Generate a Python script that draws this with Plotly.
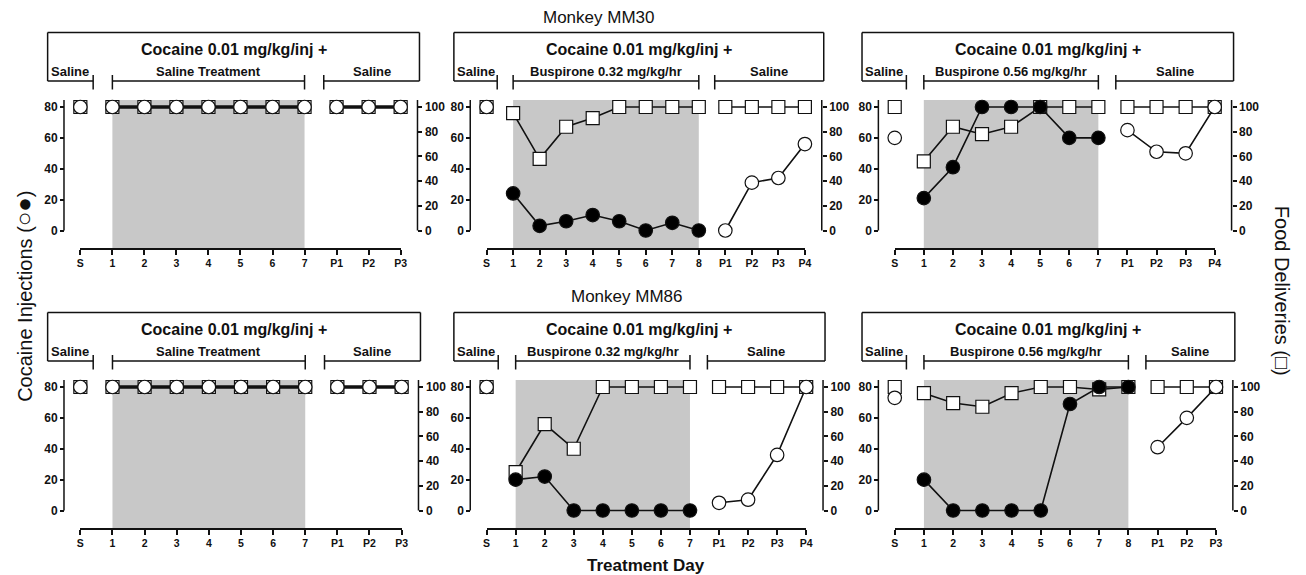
import plotly.graph_objects as go

W, H = 1306, 575

# ---------------- data ----------------
# Monkey MM30 - Saline treatment
mm30_sal_labels = ["S", "1", "2", "3", "4", "5", "6", "7", "P1", "P2", "P3"]
mm30_sal_inj_s, mm30_sal_food_s = 80, 100
mm30_sal_inj_treat = [80, 80, 80, 80, 80, 80, 80]
mm30_sal_food_treat = [100, 100, 100, 100, 100, 100, 100]
mm30_sal_inj_post = [80, 80, 80]
mm30_sal_food_post = [100, 100, 100]

# Monkey MM30 - Buspirone 0.32
mm30_b032_labels = ["S", "1", "2", "3", "4", "5", "6", "7", "8", "P1", "P2", "P3", "P4"]
mm30_b032_inj_s, mm30_b032_food_s = 80, 100
mm30_b032_inj_treat = [24, 3, 6, 10, 6, 0, 5, 0]
mm30_b032_food_treat = [95, 58, 84, 91, 100, 100, 100, 100]
mm30_b032_inj_post = [0, 31, 34, 56]
mm30_b032_food_post = [100, 100, 100, 100]

# Monkey MM30 - Buspirone 0.56
mm30_b056_labels = ["S", "1", "2", "3", "4", "5", "6", "7", "P1", "P2", "P3", "P4"]
mm30_b056_inj_s, mm30_b056_food_s = 60, 100
mm30_b056_inj_treat = [21, 41, 80, 80, 80, 60, 60]
mm30_b056_food_treat = [56, 84, 78, 84, 100, 100, 100]
mm30_b056_inj_post = [65, 51, 50, 80]
mm30_b056_food_post = [100, 100, 100, 100]

# Monkey MM86 - Saline treatment
mm86_sal_labels = ["S", "1", "2", "3", "4", "5", "6", "7", "P1", "P2", "P3"]
mm86_sal_inj_s, mm86_sal_food_s = 80, 100
mm86_sal_inj_treat = [80, 80, 80, 80, 80, 80, 80]
mm86_sal_food_treat = [100, 100, 100, 100, 100, 100, 100]
mm86_sal_inj_post = [80, 80, 80]
mm86_sal_food_post = [100, 100, 100]

# Monkey MM86 - Buspirone 0.32
mm86_b032_labels = ["S", "1", "2", "3", "4", "5", "6", "7", "P1", "P2", "P3", "P4"]
mm86_b032_inj_s, mm86_b032_food_s = 80, 100
mm86_b032_inj_treat = [20, 22, 0, 0, 0, 0, 0]
mm86_b032_food_treat = [31, 70, 50, 100, 100, 100, 100]
mm86_b032_inj_post = [5, 7, 36, 80]
mm86_b032_food_post = [100, 100, 100, 100]

# Monkey MM86 - Buspirone 0.56
mm86_b056_labels = ["S", "1", "2", "3", "4", "5", "6", "7", "8", "P1", "P2", "P3"]
mm86_b056_inj_s, mm86_b056_food_s = 73, 100
mm86_b056_inj_treat = [20, 0, 0, 0, 0, 69, 80, 80]
mm86_b056_food_treat = [95, 87, 84, 95, 100, 100, 98, 100]
mm86_b056_inj_post = [41, 60, 80]
mm86_b056_food_post = [100, 100, 100]

treatment_names = ["Saline Treatment", "Buspirone 0.32 mg/kg/hr", "Buspirone 0.56 mg/kg/hr"]
monkey_titles = ["Monkey MM30", "Monkey MM86"]
left_ticks = [0, 20, 40, 60, 80]
right_ticks = [0, 20, 40, 60, 80, 100]

panels = [
    dict(labels=mm30_sal_labels, inj_s=mm30_sal_inj_s, food_s=mm30_sal_food_s,
         inj_t=mm30_sal_inj_treat, food_t=mm30_sal_food_treat,
         inj_p=mm30_sal_inj_post, food_p=mm30_sal_food_post, treat=0),
    dict(labels=mm30_b032_labels, inj_s=mm30_b032_inj_s, food_s=mm30_b032_food_s,
         inj_t=mm30_b032_inj_treat, food_t=mm30_b032_food_treat,
         inj_p=mm30_b032_inj_post, food_p=mm30_b032_food_post, treat=1),
    dict(labels=mm30_b056_labels, inj_s=mm30_b056_inj_s, food_s=mm30_b056_food_s,
         inj_t=mm30_b056_inj_treat, food_t=mm30_b056_food_treat,
         inj_p=mm30_b056_inj_post, food_p=mm30_b056_food_post, treat=2),
    dict(labels=mm86_sal_labels, inj_s=mm86_sal_inj_s, food_s=mm86_sal_food_s,
         inj_t=mm86_sal_inj_treat, food_t=mm86_sal_food_treat,
         inj_p=mm86_sal_inj_post, food_p=mm86_sal_food_post, treat=0),
    dict(labels=mm86_b032_labels, inj_s=mm86_b032_inj_s, food_s=mm86_b032_food_s,
         inj_t=mm86_b032_inj_treat, food_t=mm86_b032_food_treat,
         inj_p=mm86_b032_inj_post, food_p=mm86_b032_food_post, treat=1),
    dict(labels=mm86_b056_labels, inj_s=mm86_b056_inj_s, food_s=mm86_b056_food_s,
         inj_t=mm86_b056_inj_treat, food_t=mm86_b056_food_treat,
         inj_p=mm86_b056_inj_post, food_p=mm86_b056_food_post, treat=2),
]

# ---------------- layout geometry (pixels) ----------------
X_START = [77, 486.7, 898.3, 77, 486.7, 898.3]
X_END = [400, 807.7, 1221, 401, 809, 1222.3]
ROW_OFF = [0, 0, 0, 280, 280, 280]
Y_TOP, Y_ZERO, Y_80, Y_XAX = 100, 230.5, 107, 248
BOX_TOP, BOX_BOT, BR_T0, BR_T1 = 32.5, 81, 75, 89.5

scale_l = (Y_ZERO - Y_80) / 80.0
scale_r = (Y_ZERO - Y_80) / 100.0
LRANGE = [-(Y_XAX - Y_ZERO) / scale_l, (Y_ZERO - Y_TOP) / scale_l]
RRANGE = [-(Y_XAX - Y_ZERO) / scale_r, (Y_ZERO - Y_TOP) / scale_r]


def px(x):
    return x / W


def py(y):
    return 1 - y / H


FONT = "Liberation Sans, Arial, Helvetica, sans-serif"
INK = "#111111"
GRAY = "#c8c8c8"

fig = go.Figure()
shapes = []
annotations = []
layout_axes = {}


def line(x0, y0, x1, y1, w=1.5):
    shapes.append(dict(type="line", xref="paper", yref="paper",
                       x0=px(x0), y0=py(y0), x1=px(x1), y1=py(y1),
                       line=dict(color=INK, width=w)))


def text(x, y, s, size, angle=0):
    annotations.append(dict(xref="paper", yref="paper", x=px(x), y=py(y), text=s,
                            showarrow=False, textangle=angle,
                            xanchor="center", yanchor="middle",
                            font=dict(family=FONT, size=size, color=INK)))


for k, p in enumerate(panels):
    i = k + 1
    xs, xe, off = X_START[k], X_END[k], ROW_OFF[k]
    n_t, n_p = len(p["inj_t"]), len(p["inj_p"])
    n = len(p["labels"]) - 1
    ppu = (xe - xs) / n

    def dx(v):
        return xs + v * ppu

    xa = "x" if i == 1 else f"x{i}"
    # base axis = right (food), overlaying axis = left (injections) so circles draw on top
    yb_i, yo_i = 2 * i - 1, 2 * i
    yb = "y" if yb_i == 1 else f"y{yb_i}"
    yo = f"y{yo_i}"

    tick_font = dict(family=FONT, size=12, color=INK, weight="bold")
    layout_axes["xaxis" if i == 1 else f"xaxis{i}"] = dict(
        domain=[px(xs), px(xe)], range=[0, n], anchor=yb,
        tickvals=list(range(n + 1)), ticktext=p["labels"],
        showline=True, linecolor=INK, linewidth=1.5, ticks="outside",
        ticklen=5, tickwidth=1.5, tickcolor=INK, showgrid=False, zeroline=False,
        tickfont=dict(family=FONT, size=10.5, color=INK, weight="bold"))
    layout_axes["yaxis" if yb_i == 1 else f"yaxis{yb_i}"] = dict(
        domain=[py(Y_XAX + off), py(Y_TOP + off)], range=RRANGE,
        anchor="free", position=px(xe + 17), side="right",
        tickvals=right_ticks, showline=False, showgrid=False, zeroline=False,
        ticks="outside", ticklen=4, tickwidth=1.5, tickcolor=INK, tickfont=tick_font)
    layout_axes[f"yaxis{yo_i}"] = dict(
        domain=[py(Y_XAX + off), py(Y_TOP + off)], range=LRANGE,
        anchor="free", position=px(xs - 16.5), side="left", overlaying=yb,
        tickvals=left_ticks, showline=False, showgrid=False, zeroline=False,
        ticks="outside", ticklen=4, tickwidth=1.5, tickcolor=INK, tickfont=tick_font)

    # axis lines for y axes
    line(xs - 16.5, Y_ZERO + off, xs - 16.5, Y_TOP + off)
    line(xe + 17, Y_ZERO + off, xe + 17, Y_TOP + off)

    # gray treatment shading
    shapes.append(dict(type="rect", xref=xa, yref="paper", x0=1, x1=n_t,
                       y0=py(Y_XAX + off), y1=py(Y_TOP + off),
                       fillcolor=GRAY, line=dict(width=0), layer="below"))

    # header box + brackets
    bl, br = xs - 33, xe + 19
    sal_t, tr_l, tr_r, post_l = dx(0.4), dx(1), dx(n_t), dx(n_t + 0.6)
    line(bl, BOX_TOP + off, br, BOX_TOP + off)
    line(bl, BOX_TOP + off, bl, BOX_BOT + off)
    line(br, BOX_TOP + off, br, BOX_BOT + off)
    line(bl, BOX_BOT + off, sal_t, BOX_BOT + off)
    line(tr_l, BOX_BOT + off, tr_r, BOX_BOT + off)
    line(post_l, BOX_BOT + off, br, BOX_BOT + off)
    for bx in (sal_t, tr_l, tr_r, post_l):
        line(bx, BR_T0 + off, bx, BR_T1 + off)

    text((bl + br) / 2, 49.5 + off, "<b>Cocaine 0.01 mg/kg/inj +</b>", 16)
    for txt, a, b in (("Saline", bl, sal_t), (treatment_names[p["treat"]], tr_l, tr_r), ("Saline", post_l, br)):
        text((a + b) / 2, 71.5 + off, f"<b>{txt}</b>", 13)

    # data traces
    xt = list(range(1, n_t + 1))
    xp = list(range(n_t + 1, n_t + n_p + 1))
    xx = [0, None] + xt + [None] + xp
    food = [p["food_s"], None] + p["food_t"] + [None] + p["food_p"]
    inj = [p["inj_s"], None] + p["inj_t"] + [None] + p["inj_p"]
    fill_t = "black" if p["treat"] > 0 else "white"
    cols = ["white", "white"] + [fill_t] * n_t + ["white"] + ["white"] * n_p
    lw = 3 if p["treat"] == 0 else 1.6

    fig.add_trace(go.Scatter(
        x=xx, y=food, xaxis=xa, yaxis=yb, mode="lines+markers", cliponaxis=False,
        connectgaps=False, line=dict(color=INK, width=lw),
        marker=dict(symbol="square", size=13, color="white", line=dict(color=INK, width=1.2)),
        showlegend=False, hoverinfo="skip"))
    fig.add_trace(go.Scatter(
        x=xx, y=inj, xaxis=xa, yaxis=yo, mode="lines+markers", cliponaxis=False,
        connectgaps=False, line=dict(color=INK, width=lw),
        marker=dict(symbol="circle", size=13.5, color=cols, line=dict(color=INK, width=1.2)),
        showlegend=False, hoverinfo="skip"))

# titles
text(600, 18, monkey_titles[0], 17)
text(628, 296.5, monkey_titles[1], 17)
text(647, 565, "<b>Treatment Day</b>", 17)
text(19, 296, "Cocaine Injections (<span style='font-size:24px'>○●</span>)", 20, -90)
text(1289, 291, "Food Deliveries (□)", 20, 90)

fig.update_layout(
    width=W, height=H, margin=dict(l=0, r=0, t=0, b=0, pad=0),
    paper_bgcolor="white", plot_bgcolor="rgba(0,0,0,0)",
    shapes=shapes, annotations=annotations, showlegend=False,
    **layout_axes)

fig.write_html("out.html")
